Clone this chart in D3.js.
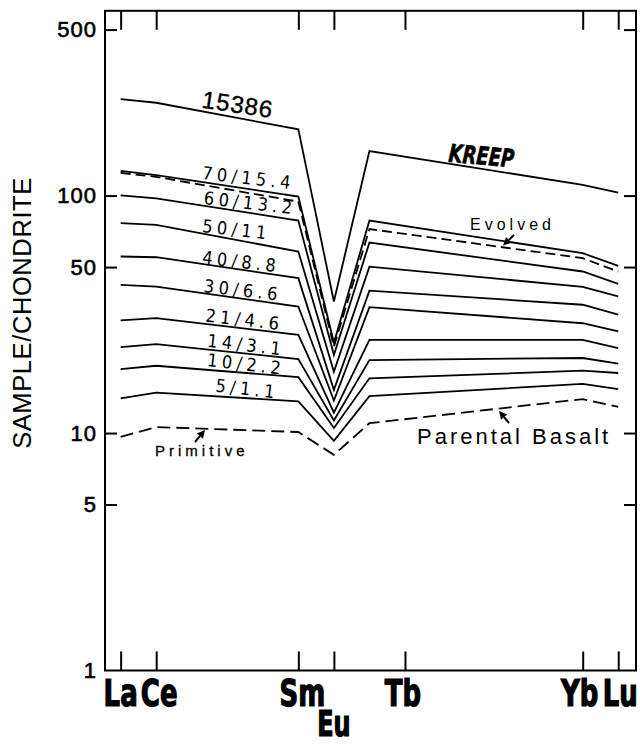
<!DOCTYPE html>
<html><head><meta charset="utf-8">
<script src="https://cdn.jsdelivr.net/npm/d3@7"></script>
<style>body{margin:0;background:#fff} svg{display:block}</style>
</head><body>
<svg id="c" width="640" height="747"></svg>
<script>
// ---- data ----
const elements = ["La","Ce","Sm","Eu","Gd","Yb","Lu"];
const atomicNumbers = [57,58,62,63,64,70,71];
const tickLabels = ["La","Ce","Sm","Eu","Tb","Yb","Lu"];
const tickZ = [57,58,62,63,65,70,71];
const yTicks = [1,5,10,50,100,500];

const kreep15386 = [255, 246, 190, 35.8, 154, 111, 103];
const s70 = [127, 122, 99, 24.0, 78.5, 57.2, 50.6];
const evolved = [124.6, 119.9, 94.3, 23.1, 72.3, 54.5, 47.9];
const s60 = [100.2, 97.3, 78.5, 21.3, 63.4, 47.9, 42.5];
const s50 = [76.5, 75.3, 58.1, 18.1, 50.2, 41.3, 37.6];
const s40 = [55.4, 55.0, 44.9, 15.2, 39.8, 34.7, 31.5];
const s30 = [42.1, 41.4, 34.1, 13.7, 33.9, 29.0, 26.8];
const s21 = [29.8, 30.5, 25.9, 12.2, 24.7, 24.7, 22.8];
const s14 = [23.0, 23.7, 20.5, 11.3, 20.3, 20.7, 19.6];
const s10 = [18.6, 19.2, 17.2, 10.5, 17.0, 18.3, 17.9];
const s5  = [14.0, 14.8, 13.6, 9.27, 14.3, 16.1, 15.3];
const parental = [9.64, 10.6, 10.1, 8.1, 11.0, 13.9, 12.9];

const seriesNames = ["15386","70/15.4","Evolved","60/13.2","50/11","40/8.8","30/6.6","21/4.6","14/3.1","10/2.2","5/1.1","Parental Basalt"];
const seriesValues = [kreep15386,s70,evolved,s60,s50,s40,s30,s21,s14,s10,s5,parental];
const seriesDashed = [false,false,true,false,false,false,false,false,false,false,false,true];

// ---- layout ----
const svg = d3.select("#c");
const L = 105, R = 636, T = 10.8, B = 670.5;
const x = d3.scaleLinear().domain([56.56, 71.5]).range([L, R]);
const y = d3.scaleLog().domain([1, 600]).range([B, T]);

const g = svg.append("g");

// frame
g.append("rect").attr("x", L).attr("y", T).attr("width", R - L).attr("height", B - T)
  .attr("fill", "none").attr("stroke", "#000").attr("stroke-width", 2);

// axes (ticks only)
const fmt = d3.format("d");
const ax = (sel) => { sel.select(".domain").remove(); sel.selectAll(".tick line").attr("stroke","#000").attr("stroke-width",2); };

g.append("g").attr("transform", `translate(${L},0)`)
  .call(d3.axisLeft(y).tickValues(yTicks).tickSize(-12).tickPadding(8).tickFormat(fmt))
  .call(ax)
  .call(s => s.selectAll("text").attr("font-family","Liberation Sans, Arial, sans-serif")
     .attr("font-size", 22).attr("fill","#000").attr("stroke","#000").attr("stroke-width",0.6)
     .attr("letter-spacing", 1));
g.selectAll(".tick").filter(d => d === 1).select("line").remove();

g.append("g").attr("transform", `translate(${R},0)`)
  .call(d3.axisRight(y).tickValues(yTicks.filter(v => v > 1)).tickSize(-12).tickFormat(""))
  .call(ax);

g.append("g").attr("transform", `translate(0,${B})`)
  .call(d3.axisBottom(x).tickValues(tickZ).tickSize(-19).tickFormat(""))
  .call(ax);
g.append("g").attr("transform", `translate(0,${T})`)
  .call(d3.axisTop(x).tickValues(tickZ).tickSize(-19).tickFormat(""))
  .call(ax);

// x labels
const labelShift = {La: 0, Ce: 3, Sm: 4, Eu: 0, Tb: -2, Yb: -3, Lu: 2};
tickLabels.forEach((lab, i) => {
  const lower = lab === "Eu";
  g.append("text")
    .attr("transform", `translate(${x(tickZ[i]) + labelShift[lab]},${lower ? 736 : 706}) scale(0.76,1)`)
    .attr("text-anchor", "middle")
    .attr("font-family", "Liberation Sans Narrow, DejaVu Sans Condensed, Arial Narrow, sans-serif")
    .attr("font-weight", "bold").attr("font-size", lower ? 35 : 38)
    .attr("stroke", "#000").attr("stroke-width", 1.2)
    .text(lab);
});

// y title
g.append("text").attr("transform", "translate(31,313) rotate(-90)")
  .attr("text-anchor", "middle").attr("font-family", "Liberation Sans, Arial, sans-serif")
  .attr("font-size", 25.5).attr("letter-spacing", 0.6).text("SAMPLE/CHONDRITE");

// lines
const line = d3.line().x((d, i) => x(atomicNumbers[i])).y(d => y(d));
seriesValues.forEach((vals, k) => {
  g.append("path").datum(vals).attr("d", line)
    .attr("fill", "none").attr("stroke", "#000")
    .attr("stroke-width", 1.8).attr("stroke-linejoin", "miter")
    .attr("stroke-dasharray", seriesDashed[k] ? (k === 2 ? "10,5" : "13,6") : null);
});

// line labels
const stencil = "Liberation Sans Narrow, DejaVu Sans Condensed, Arial Narrow, sans-serif";
const lineLabels = [
  ["70/15.4", 201.7, 179], ["60/13.2", 203.3, 204], ["50/11", 201.7, 232],
  ["40/8.8", 201.7, 263.5], ["30/6.6", 203.3, 292], ["21/4.6", 205, 321.5],
  ["14/3.1", 206.7, 346.7], ["10/2.2", 206.7, 366], ["5/1.1", 215, 391.5]
];
lineLabels.forEach(([t, lx, ly]) => {
  g.append("text").attr("transform", `translate(${lx},${ly}) rotate(6.5)`)
    .attr("font-family", stencil).attr("font-size", 18).attr("letter-spacing", 4.4)
    .text(t);
});

g.append("text").attr("transform", "translate(201,107.5) rotate(8.5)")
  .attr("font-family", "Liberation Sans, Arial, sans-serif").attr("font-size", 24)
  .attr("letter-spacing", 1).attr("stroke", "#000").attr("stroke-width", 0.4)
  .text("15386");

g.append("text").attr("transform", "translate(448,161.7) rotate(5) scale(0.8,1)")
  .attr("font-family", stencil).attr("font-weight", "bold").attr("font-style", "italic")
  .attr("font-size", 25).attr("stroke", "#000").attr("stroke-width", 0.6)
  .text("KREEP");

g.append("text").attr("x", 470).attr("y", 230)
  .attr("font-family", "Liberation Sans, Arial, sans-serif").attr("font-size", 16)
  .attr("letter-spacing", 4).text("Evolved");

g.append("text").attr("x", 417).attr("y", 444)
  .attr("font-family", "Liberation Sans, Arial, sans-serif").attr("font-size", 22)
  .attr("letter-spacing", 3).text("Parental Basalt");

g.append("text").attr("x", 155).attr("y", 456)
  .attr("font-family", "Liberation Sans, Arial, sans-serif").attr("font-size", 15)
  .attr("letter-spacing", 4).attr("stroke", "#000").attr("stroke-width", 0.3)
  .text("Primitive");

// arrows
function arrow(x1, y1, x2, y2) {
  const a = Math.atan2(y2 - y1, x2 - x1);
  const len = 8, hw = 4;
  const bx = x2 - len * Math.cos(a), by = y2 - len * Math.sin(a);
  g.append("line").attr("x1", x1).attr("y1", y1).attr("x2", bx).attr("y2", by)
    .attr("stroke", "#000").attr("stroke-width", 2);
  const p = [[x2, y2],
    [bx + hw * Math.sin(a), by - hw * Math.cos(a)],
    [bx - hw * Math.sin(a), by + hw * Math.cos(a)]];
  g.append("path").attr("d", "M" + p.map(q => q.join(",")).join("L") + "Z").attr("fill", "#000");
}
arrow(514, 235, 503, 245.5);
arrow(509, 423, 499, 411);
arrow(195, 442, 205, 430);
</script>
</body></html>
